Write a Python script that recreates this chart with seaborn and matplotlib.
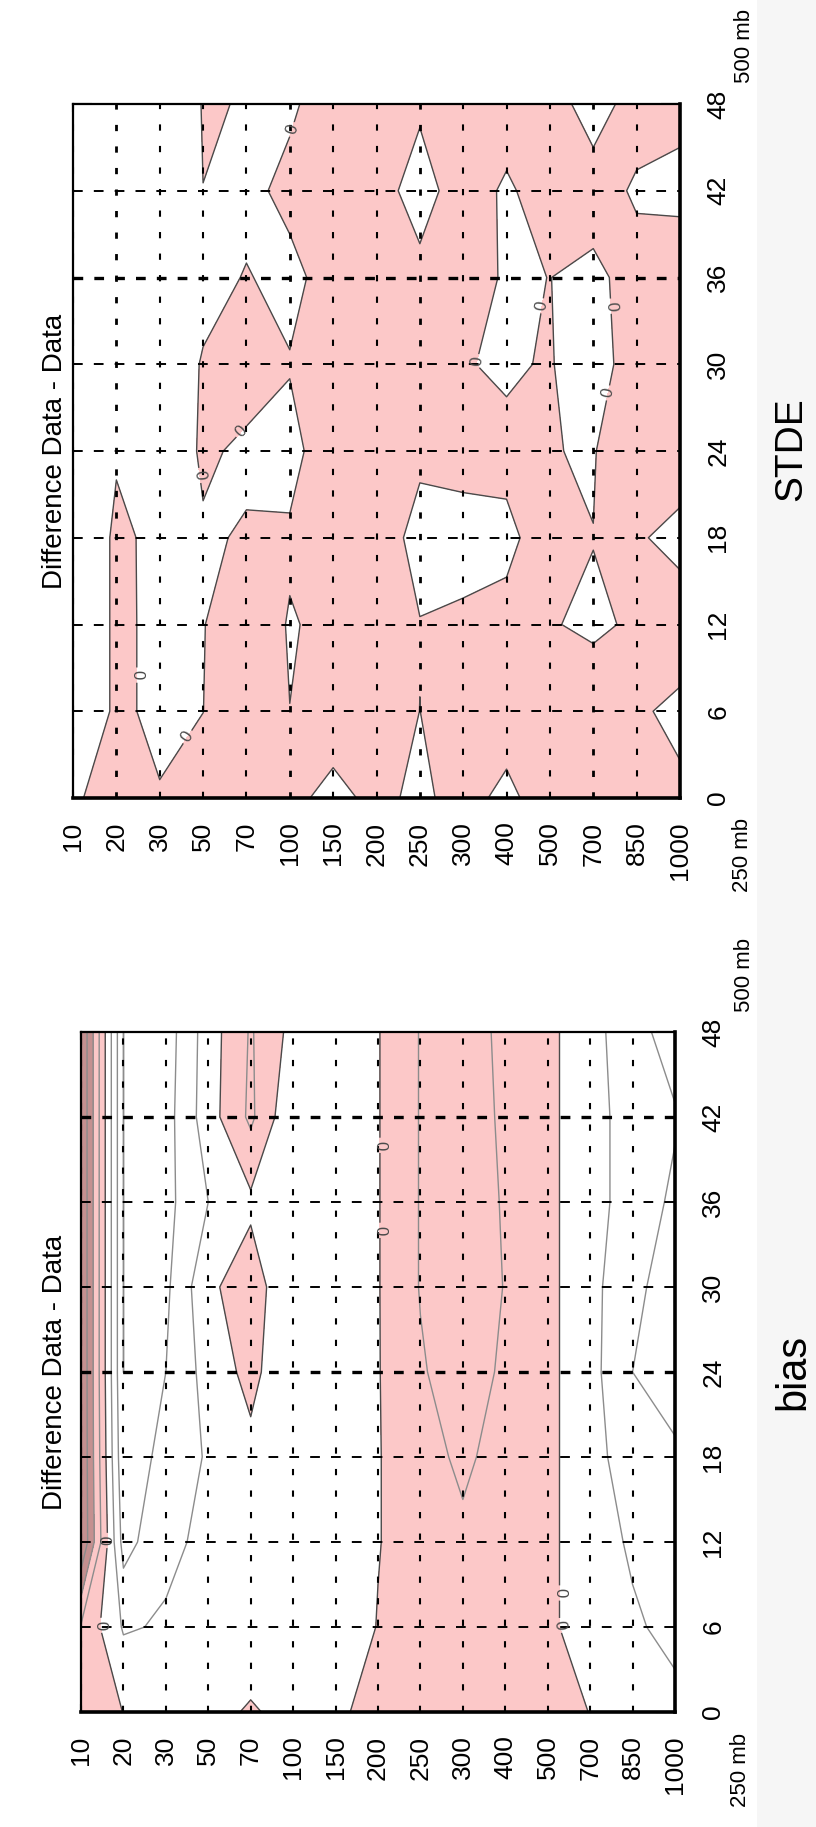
import numpy as np
import matplotlib
matplotlib.use("Agg")
import matplotlib.pyplot as plt
from matplotlib.patches import Rectangle
import seaborn as sns

# Vertical levels (mb) and forecast lead times (h)
pressure_levels = ["10", "20", "30", "50", "70", "100", "150", "200",
                   "250", "300", "400", "500", "700", "850", "1000"]
forecast_hours = [0, 6, 12, 18, 24, 30, 36, 42, 48]

# STDE difference, one row per lead time, columns follow pressure_levels
stde_h00 = [-0.16, 0.5, 0.15, 0.5, 1.0, 0.44, -0.5, 0.43, -0.37, 0.68, -0.5, 1.1, 1.0, 1.0, 0.42]
stde_h06 = [-2.8, 0.5, -0.56, -0.01, 1.0, 0.01, 0.93, 1.0, -0.01, 1.0, 1.0, 1.0, 0.64, 0.33, -0.54]
stde_h12 = [-2.8, 0.5, -0.56, -0.05, 0.9, -0.1, 0.32, 1.0, 0.05, 0.22, 0.24, 0.067, -0.18, 0.15, 1.38]
stde_h18 = [-2.8, 0.5, -0.6, -0.26, 0.19, 0.2, 1.0, 0.82, -0.5, -0.5, -0.2, 0.44, 0.03, 0.3, -0.81]
stde_h24 = [-1.0, -0.25, -2.0, 0.35, -0.4, -0.5, 1.0, 1.0, 0.29, 0.46, 0.25, 0.07, -0.15, 2.0, 1.5]
stde_h30 = [-1.0, -1.0, -1.5, 0.15, 1.0, 0.1, 1.0, 1.0, 1.0, 0.064, -0.15, 0.1, -0.9, 1.0, 1.4]
stde_h36 = [-1.0, -1.0, -1.0, -0.6, 0.1, -0.5, 0.78, 1.0, 0.51, 1.0, -0.25, 0.02, -0.5, 0.85, 1.4]
stde_h42 = [-1.0, -1.0, -1.0, -0.005, -0.5, 0.5, 1.0, 0.8, -0.8, 1.0, -0.3, 1.0, 1.0, -0.3, -0.6]
stde_h48 = [-1.0, -1.0, -1.0, 0.05, -0.03, -0.3, 1.0, 1.0, 0.3, 1.0, 1.0, 1.0, -1.0, 0.95, 0.6]

# Bias difference, same layout
bias_h00 = [0.8, -0.02, -0.3, -0.3, 0.1, -0.3, -0.5, 0.95, 0.6, 0.6, 0.6, 0.6, -0.03, -0.7, -0.8]
bias_h06 = [0.9, -1.1, -0.9, -0.6, -0.6, -0.6, -0.9, 0.05, 0.6, 0.7, 0.5, 0.25, -0.65, -0.9, -1.2]
bias_h12 = [4.0, -2.4, -1.2, -0.8, -0.6, -0.6, -0.6, -0.05, 0.6, 0.8, 0.5, 0.25, -0.65, -1.1, -1.5]
bias_h18 = [4.0, -2.8, -1.6, -0.9, -0.27, -0.7, -0.6, -0.05, 0.6, 1.2, 0.575, 0.25, -0.65, -1.5, -1.9]
bias_h24 = [4.0, -3.0, -2.0, -0.6, 0.3, -0.9, -0.6, -0.05, 0.9, 1.5, 0.83, 0.25, -0.65, -2.0, -2.3]
bias_h30 = [4.0, -3.0, -2.2, -0.2, 0.54, -0.9, -0.6, -0.05, 1.05, 1.3, 0.98, 0.25, -0.65, -1.85, -2.3]
bias_h36 = [4.0, -3.0, -2.3, -1.0, -0.2, -0.7, -0.6, -0.05, 1.05, 1.3, 0.95, 0.25, -0.65, -1.4, -2.2]
bias_h42 = [4.0, -3.0, -2.4, -0.45, 1.2, -0.9, -0.6, -0.05, 1.05, 1.3, 0.9, 0.25, -0.65, -1.4, -1.9]
bias_h48 = [4.0, -3.0, -2.5, -0.5, 1.1, -0.32, -0.6, -0.05, 1.05, 1.3, 0.85, 0.25, -0.65, -1.6, -2.5]

stde_field = np.array([stde_h00, stde_h06, stde_h12, stde_h18, stde_h24,
                       stde_h30, stde_h36, stde_h42, stde_h48])
bias_field = np.array([bias_h00, bias_h06, bias_h12, bias_h18, bias_h24,
                       bias_h30, bias_h36, bias_h42, bias_h48])

PINK = "#fcc8c8"
DARK_PINK = "#c49090"

sns.set_theme(style="white")
plt.rcParams["font.family"] = ["Liberation Sans", "DejaVu Sans"]
plt.rcParams["lines.scale_dashes"] = False
plt.rcParams["contour.negative_linestyle"] = "solid"

fig = plt.figure(figsize=(8.16, 18.27), dpi=100)
W, H = 816.0, 1827.0

# faint shading along the right margin of the sheet
fig.patches.append(Rectangle((757 / W, 0), (W - 757) / W, 1, transform=fig.transFigure,
                             facecolor="#f6f6f6", edgecolor="none", zorder=0))


def box(left, top, right, bottom):
    return [left / W, 1 - bottom / H, (right - left) / W, (bottom - top) / H]


def draw_panel(ax, field, fill_levels, fill_colors, line_levels, line_colors,
               bold_hours, bold_levels, label_spots):
    x = np.arange(len(pressure_levels))
    y = np.array(forecast_hours)
    ax.contourf(x, y, field, levels=fill_levels, colors=fill_colors, zorder=1)
    if line_levels:
        ax.contour(x, y, field, levels=line_levels, colors=line_colors,
                   linewidths=1.0, linestyles="solid", zorder=2)
    zero = ax.contour(x, y, field, levels=[0], colors="#4a4a4a",
                      linewidths=1.0, linestyles="solid", zorder=2)
    ax.clabel(zero, fmt={0: "0"}, fontsize=12, inline=True, inline_spacing=3,
              manual=label_spots)

    # dashed reference grid, a few lines drawn heavier
    for i in x:
        lw = 2.0 if i in bold_levels else 1.5
        ax.axvline(i, color="black", lw=lw, ls=(0, (4.5, 11)), zorder=3)
    for h in y:
        lw = 2.4 if h in bold_hours else 1.4
        ax.axhline(h, color="black", lw=lw, ls=(0, (7, 8)), zorder=3)

    ax.set_xlim(x[0], x[-1])
    ax.set_ylim(y[0], y[-1])
    ax.set_xticks(x)
    ax.set_xticklabels(pressure_levels)
    ax.set_xticks(x[:-1] + 0.5, minor=True)
    ax.set_yticks(y)
    ax.set_yticklabels([str(h) for h in forecast_hours])
    ax.set_yticks(np.arange(0, 48.1, 1.5), minor=True)

    ax.tick_params(axis="x", which="major", direction="in", length=6, width=1.5,
                   top=True, bottom=True, labelbottom=True, labeltop=False,
                   pad=17, labelsize=19, colors="black")
    ax.tick_params(axis="x", which="minor", direction="in", length=3, width=1.5,
                   top=True, bottom=True)
    ax.tick_params(axis="y", which="major", direction="in", length=14, width=1.5,
                   left=True, right=True, labelleft=False, labelright=True,
                   pad=19, labelsize=19, colors="black")
    ax.tick_params(axis="y", which="minor", direction="in", length=3, width=1.5,
                   left=True, right=True)
    for lab in ax.get_xticklabels():
        lab.set_rotation(90)
        lab.set_ha("center")
        lab.set_va("top")
    for lab in ax.get_yticklabels():
        lab.set_rotation(90)
        lab.set_ha("left")
        lab.set_va("center")

    for side, sp in ax.spines.items():
        sp.set_visible(True)
        sp.set_color("black")
        sp.set_linewidth(2.6 if side in ("bottom", "right") else 1.6)
        sp.set_zorder(4)
    ax.set_facecolor("white")


# STDE panel
ax_top = fig.add_axes(box(73, 104, 680, 798))
draw_panel(ax_top, stde_field, [-10, 0, 10], ["white", PINK], [], "#777777",
           bold_hours=[36], bold_levels=[1, 5, 8, 12],
           label_spots=[(5.1, 46.2), (3.8, 25.6), (10.9, 34.0), (12.3, 34.0),
                        (9.3, 30.2), (12.2, 28.1), (2.9, 22.3), (1.4, 8.5),
                        (2.6, 4.3)])

# bias panel
ax_bot = fig.add_axes(box(81, 1032, 675, 1712))
draw_panel(ax_bot, bias_field, [-10, 0, 2, 10], ["white", PINK, DARK_PINK],
           [-3, -2, -1, 1, 2, 3], "#8c8c8c", bold_hours=[24, 42], bold_levels=[],
           label_spots=[(0.5, 12.1), (0.5, 6.1), (11.4, 8.4), (11.4, 6.1),
                        (7.1, 40.0), (7.1, 34.0)])


# text labels, written sideways like the axes
def side_text(x, y, s, size, **kw):
    fig.text(x / W, 1 - y / H, s, rotation=90, ha="center", va="center",
             fontsize=size, color="black", **kw)


side_text(55, 451, "Difference Data - Data", 20)
side_text(55, 1372, "Difference Data - Data", 20)
side_text(791, 449, "STDE", 28)
side_text(793, 1372, "bias", 30)
side_text(745, 46, "500 mb", 16)
side_text(743, 855, "250 mb", 16)
side_text(744, 975, "500 mb", 16)
side_text(741, 1770, "250 mb", 16)

fig.savefig("out.png", dpi=100, facecolor="white")
